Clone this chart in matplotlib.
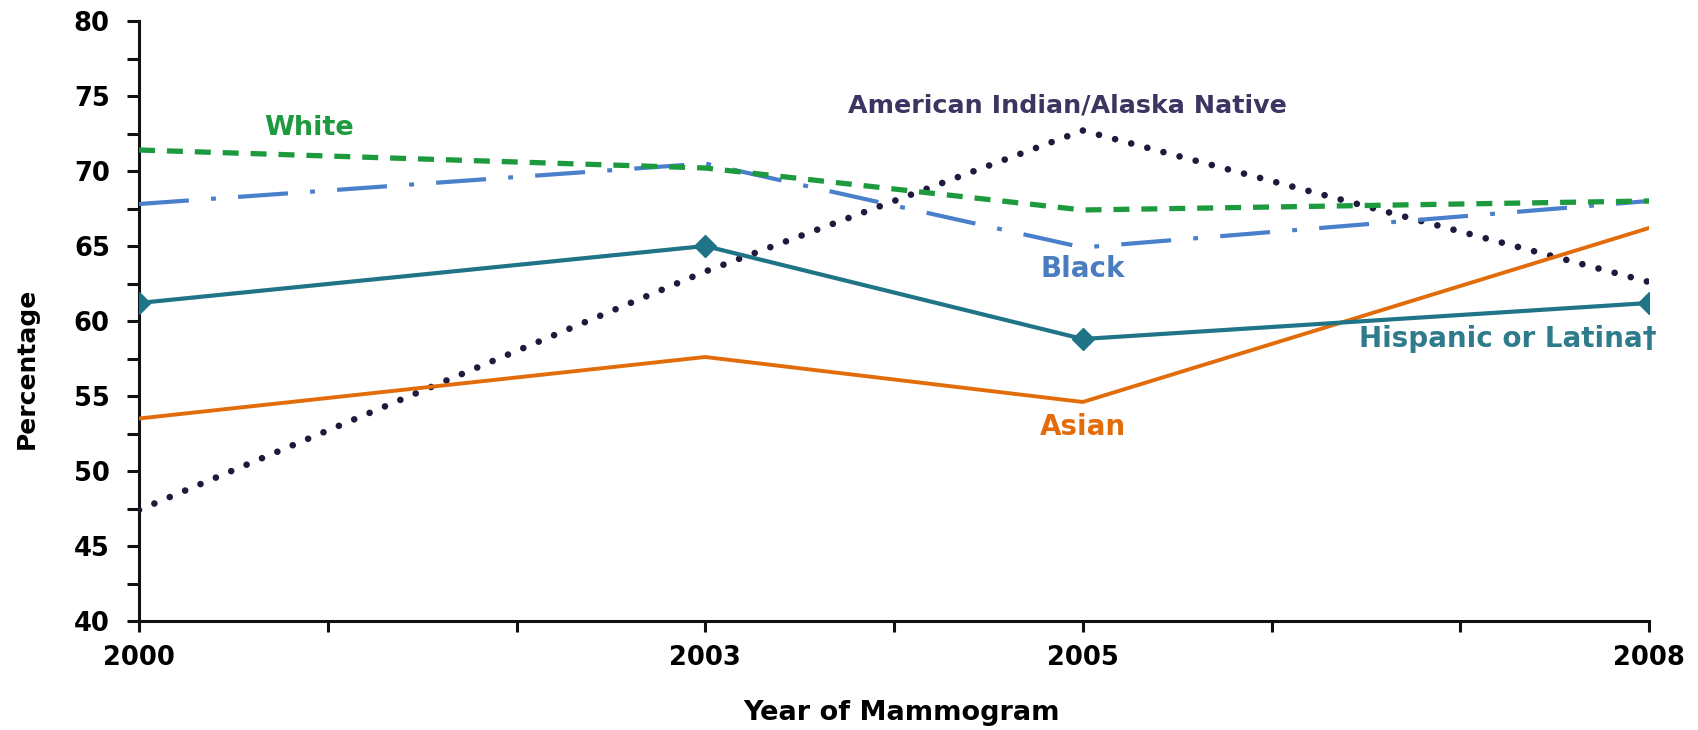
import matplotlib
matplotlib.use("Agg")
import matplotlib.pyplot as plt
from matplotlib.ticker import MultipleLocator

plt.rcParams['font.family'] = ['DejaVu Sans']
plt.rcParams['lines.scale_dashes'] = False

# Data
years = [2000, 2003, 2005, 2008]
white = [71.4, 70.2, 67.4, 68.0]
black = [67.8, 70.5, 64.9, 68.0]
hispanic = [61.2, 65.0, 58.8, 61.2]
asian = [53.5, 57.6, 54.6, 66.2]
aian = [47.4, 63.3, 72.7, 62.6]

xtick_labels = ['2000', '2003', '2005', '2008']

# Series labels: (text, x, y, colour, size)
labels = [
    ('White', 2000.9, 72.4, '#1e9a3e', 19.5),
    ('American Indian/Alaska Native', 2004.92, 73.93, '#3d3461', 18.3),
    ('Black', 2005.0, 62.93, '#4a7dc0', 20),
    ('Hispanic or Latina\u2020', 2007.25, 58.27, '#2e7b8b', 20),
    ('Asian', 2005.0, 52.4, '#e36c0a', 20),
]

fig = plt.figure(figsize=(16.99, 7.30), dpi=100)
ax = fig.add_axes([139 / 1699, 1 - 621 / 730, (1649 - 139) / 1699, 600 / 730])

# lines
ax.plot(years, aian, color='#1f1a3d', linewidth=4.8, dashes=(0.01, 12),
        dash_capstyle='round', zorder=3)
ax.plot(years, asian, color='#e36c0a', linewidth=2.8, zorder=4)
ax.plot(years, hispanic, color='#1f7488', linewidth=3.0, marker='D',
        markersize=11, zorder=5)
ax.plot(years, black, color='#4a7fcb', linewidth=3.0,
        dashes=(36, 16, 3.5, 16), zorder=4)
ax.plot(years, white, color='#1e9a3e', linewidth=3.8, dashes=(11.5, 8.6),
        zorder=4)

for text, x, y, c, fs in labels:
    ax.text(x, y, text, color=c, fontsize=fs, fontweight='bold',
            ha='center', va='baseline', clip_on=False)

ax.set_xlim(2000, 2008)
ax.set_ylim(40, 80)
ax.set_xticks([int(t) for t in xtick_labels])
ax.set_xticklabels(xtick_labels)
ax.xaxis.set_minor_locator(MultipleLocator(1))
ax.yaxis.set_major_locator(MultipleLocator(5))
ax.yaxis.set_minor_locator(MultipleLocator(2.5))

for s in ['top', 'right']:
    ax.spines[s].set_visible(False)
for s in ['left', 'bottom']:
    ax.spines[s].set_linewidth(2.2)
    ax.spines[s].set_color('#111111')

ax.tick_params(axis='both', which='both', direction='out', width=2.2,
               color='#111111')
ax.tick_params(axis='y', which='both', length=9, pad=12)
ax.tick_params(axis='x', which='both', length=8, pad=9)
ax.tick_params(axis='both', which='major', labelsize=18.5)
for lab in ax.get_xticklabels() + ax.get_yticklabels():
    lab.set_fontweight('bold')

fig.text(902 / 1699, 1 - 713 / 730, 'Year of Mammogram', fontsize=19.5,
         fontweight='bold', ha='center', va='center')
fig.text(27 / 1699, 1 - 368 / 730, 'Percentage', fontsize=18,
         fontweight='bold', ha='center', va='center', rotation=90)

fig.savefig('out.png', dpi=100)
